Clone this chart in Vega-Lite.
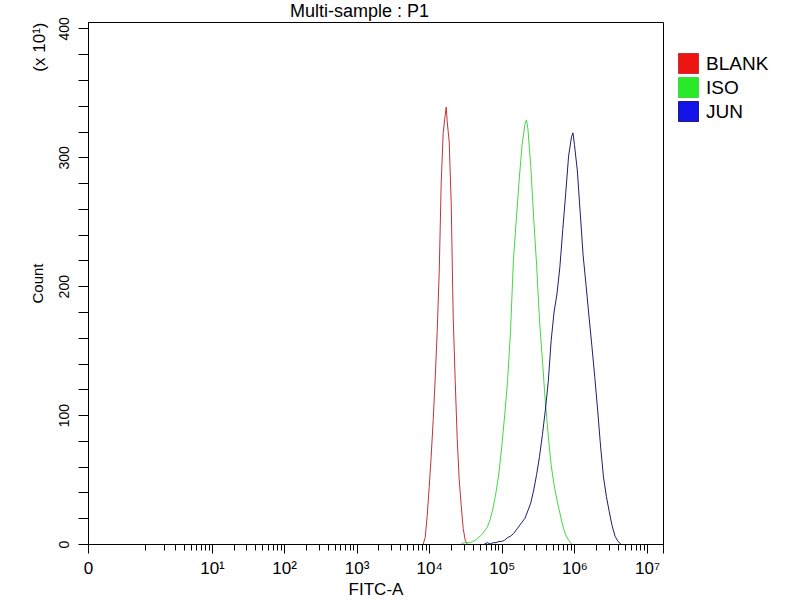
{
  "$schema": "https://vega.github.io/schema/vega-lite/v6.json",
  "width": 575,
  "height": 522,
  "autosize": "none",
  "padding": {"left": 88, "top": 22, "right": 137, "bottom": 56},
  "title": {
    "text": "Multi-sample : P1",
    "fontSize": 18,
    "fontWeight": "normal",
    "font": "Liberation Sans",
    "color": "black",
    "anchor": "middle",
    "frame": "group",
    "baseline": "bottom",
    "offset": -22,
    "dx": -16
  },
  "data": {
    "values": [
      {"sample": "BLANK", "fitc": 8270, "count": 0},
      {"sample": "BLANK", "fitc": 8810, "count": 5},
      {"sample": "BLANK", "fitc": 9390, "count": 22},
      {"sample": "BLANK", "fitc": 10000, "count": 44},
      {"sample": "BLANK", "fitc": 10650, "count": 68},
      {"sample": "BLANK", "fitc": 11350, "count": 96},
      {"sample": "BLANK", "fitc": 12090, "count": 128},
      {"sample": "BLANK", "fitc": 12890, "count": 165},
      {"sample": "BLANK", "fitc": 13730, "count": 210},
      {"sample": "BLANK", "fitc": 14630, "count": 280},
      {"sample": "BLANK", "fitc": 15590, "count": 319},
      {"sample": "BLANK", "fitc": 16620, "count": 333},
      {"sample": "BLANK", "fitc": 17150, "count": 339},
      {"sample": "BLANK", "fitc": 17700, "count": 328},
      {"sample": "BLANK", "fitc": 18860, "count": 312},
      {"sample": "BLANK", "fitc": 20090, "count": 265},
      {"sample": "BLANK", "fitc": 21410, "count": 176},
      {"sample": "BLANK", "fitc": 22810, "count": 127},
      {"sample": "BLANK", "fitc": 24310, "count": 82},
      {"sample": "BLANK", "fitc": 25900, "count": 50},
      {"sample": "BLANK", "fitc": 27600, "count": 30},
      {"sample": "BLANK", "fitc": 29400, "count": 12},
      {"sample": "BLANK", "fitc": 31330, "count": 3},
      {"sample": "BLANK", "fitc": 33380, "count": 0},
      {"sample": "ISO", "fitc": 27540, "count": 0},
      {"sample": "ISO", "fitc": 30200, "count": 1},
      {"sample": "ISO", "fitc": 33110, "count": 1},
      {"sample": "ISO", "fitc": 36310, "count": 1},
      {"sample": "ISO", "fitc": 39810, "count": 2},
      {"sample": "ISO", "fitc": 43650, "count": 3},
      {"sample": "ISO", "fitc": 47860, "count": 5},
      {"sample": "ISO", "fitc": 52480, "count": 7},
      {"sample": "ISO", "fitc": 57540, "count": 10},
      {"sample": "ISO", "fitc": 63100, "count": 13},
      {"sample": "ISO", "fitc": 69180, "count": 19},
      {"sample": "ISO", "fitc": 75860, "count": 28},
      {"sample": "ISO", "fitc": 83180, "count": 40},
      {"sample": "ISO", "fitc": 91200, "count": 55},
      {"sample": "ISO", "fitc": 100000, "count": 76},
      {"sample": "ISO", "fitc": 109600, "count": 100},
      {"sample": "ISO", "fitc": 120200, "count": 127},
      {"sample": "ISO", "fitc": 131800, "count": 165},
      {"sample": "ISO", "fitc": 144500, "count": 220},
      {"sample": "ISO", "fitc": 158500, "count": 252},
      {"sample": "ISO", "fitc": 173800, "count": 283},
      {"sample": "ISO", "fitc": 190500, "count": 310},
      {"sample": "ISO", "fitc": 208900, "count": 326},
      {"sample": "ISO", "fitc": 218800, "count": 329},
      {"sample": "ISO", "fitc": 229100, "count": 322},
      {"sample": "ISO", "fitc": 251200, "count": 292},
      {"sample": "ISO", "fitc": 275400, "count": 252},
      {"sample": "ISO", "fitc": 302000, "count": 216},
      {"sample": "ISO", "fitc": 331100, "count": 173},
      {"sample": "ISO", "fitc": 363100, "count": 142},
      {"sample": "ISO", "fitc": 398100, "count": 110},
      {"sample": "ISO", "fitc": 436500, "count": 84},
      {"sample": "ISO", "fitc": 478600, "count": 61},
      {"sample": "ISO", "fitc": 524800, "count": 46},
      {"sample": "ISO", "fitc": 575400, "count": 34},
      {"sample": "ISO", "fitc": 631000, "count": 24},
      {"sample": "ISO", "fitc": 691800, "count": 14},
      {"sample": "ISO", "fitc": 758600, "count": 7},
      {"sample": "ISO", "fitc": 831800, "count": 3},
      {"sample": "ISO", "fitc": 912000, "count": 0},
      {"sample": "JUN", "fitc": 57540, "count": 0},
      {"sample": "JUN", "fitc": 63100, "count": 1},
      {"sample": "JUN", "fitc": 69180, "count": 0},
      {"sample": "JUN", "fitc": 75860, "count": 1},
      {"sample": "JUN", "fitc": 83180, "count": 1},
      {"sample": "JUN", "fitc": 91200, "count": 2},
      {"sample": "JUN", "fitc": 100000, "count": 2},
      {"sample": "JUN", "fitc": 109600, "count": 3},
      {"sample": "JUN", "fitc": 120200, "count": 5},
      {"sample": "JUN", "fitc": 131800, "count": 6},
      {"sample": "JUN", "fitc": 144500, "count": 8},
      {"sample": "JUN", "fitc": 158500, "count": 11},
      {"sample": "JUN", "fitc": 173800, "count": 14},
      {"sample": "JUN", "fitc": 190500, "count": 17},
      {"sample": "JUN", "fitc": 208900, "count": 20},
      {"sample": "JUN", "fitc": 229100, "count": 26},
      {"sample": "JUN", "fitc": 251200, "count": 32},
      {"sample": "JUN", "fitc": 275400, "count": 42},
      {"sample": "JUN", "fitc": 302000, "count": 54},
      {"sample": "JUN", "fitc": 331100, "count": 68},
      {"sample": "JUN", "fitc": 363100, "count": 85},
      {"sample": "JUN", "fitc": 398100, "count": 104},
      {"sample": "JUN", "fitc": 436500, "count": 126},
      {"sample": "JUN", "fitc": 478600, "count": 158},
      {"sample": "JUN", "fitc": 524800, "count": 180},
      {"sample": "JUN", "fitc": 575400, "count": 194},
      {"sample": "JUN", "fitc": 631000, "count": 215},
      {"sample": "JUN", "fitc": 691800, "count": 244},
      {"sample": "JUN", "fitc": 758600, "count": 272},
      {"sample": "JUN", "fitc": 831800, "count": 301},
      {"sample": "JUN", "fitc": 912000, "count": 316},
      {"sample": "JUN", "fitc": 955000, "count": 319},
      {"sample": "JUN", "fitc": 1000000, "count": 310},
      {"sample": "JUN", "fitc": 1096000, "count": 290},
      {"sample": "JUN", "fitc": 1202000, "count": 257},
      {"sample": "JUN", "fitc": 1318000, "count": 224},
      {"sample": "JUN", "fitc": 1445000, "count": 201},
      {"sample": "JUN", "fitc": 1585000, "count": 177},
      {"sample": "JUN", "fitc": 1738000, "count": 154},
      {"sample": "JUN", "fitc": 1905000, "count": 130},
      {"sample": "JUN", "fitc": 2089000, "count": 104},
      {"sample": "JUN", "fitc": 2291000, "count": 76},
      {"sample": "JUN", "fitc": 2512000, "count": 52},
      {"sample": "JUN", "fitc": 2754000, "count": 37},
      {"sample": "JUN", "fitc": 3020000, "count": 25},
      {"sample": "JUN", "fitc": 3311000, "count": 14},
      {"sample": "JUN", "fitc": 3631000, "count": 6},
      {"sample": "JUN", "fitc": 3981000, "count": 2},
      {"sample": "JUN", "fitc": 4365000, "count": 0}
    ]
  },
  "layer": [
    {
      "mark": {"type": "line", "strokeWidth": 1},
      "encoding": {
        "x": {
          "field": "fitc",
          "type": "quantitative",
          "scale": {"type": "symlog", "constant": 0.2, "domain": [0, 16600000], "nice": false},
          "axis": {
            "values": [0, 10, 100, 1000, 10000, 100000, 1000000, 10000000, 16600000],
            "labelExpr": "datum.value < 1 ? '0' : datum.value > 16000000 ? '' : '10' + ['', '¹', '²', '³', '⁴', '⁵', '⁶', '⁷'][round(log(datum.value) / LN10)]",
            "tickSize": 9,
            "labelFontSize": 17,
            "labelPadding": 7,
            "labelFlush": false,
            "labelOverlap": false,
            "title": "FITC-A",
            "titleFontSize": 17,
            "titleFontWeight": "normal",
            "titlePadding": 5
          }
        },
        "y": {
          "field": "count",
          "type": "quantitative",
          "scale": {"domain": [0, 405], "nice": false},
          "axis": {
            "values": [0, 20, 40, 60, 80, 100, 120, 140, 160, 180, 200, 220, 240, 260, 280, 300, 320, 340, 360, 380, 400],
            "labelExpr": "datum.value % 100 == 0 ? datum.label : ''",
            "tickSize": 10,
            "labelAngle": 270,
            "labelAlign": "center",
            "labelBaseline": "bottom",
            "labelFontSize": 14,
            "labelPadding": 7,
            "labelOverlap": false,
            "title": "Count",
            "titleFontSize": 15,
            "titleFontWeight": "normal",
            "titlePadding": 12
          }
        },
        "stroke": {
          "field": "sample",
          "type": "nominal",
          "scale": {"domain": ["BLANK", "ISO", "JUN"], "range": ["#c03434", "#44d844", "#1e1e70"]},
          "legend": {
            "orient": "none",
            "legendX": 590,
            "legendY": 31,
            "title": null,
            "symbolType": "square",
            "symbolSize": 400,
            "symbolStrokeColor": "black",
            "symbolStrokeWidth": 1,
            "labelFontSize": 19,
            "labelColor": "black",
            "labelOffset": 7,
            "rowPadding": -1,
            "padding": 0,
            "encode": {
              "symbols": {
                "update": {
                  "fill": {"signal": "datum.value == 'BLANK' ? '#ee1414' : datum.value == 'ISO' ? '#28ea28' : '#1414ea'"},
                  "fillOpacity": {"value": 1},
                  "stroke": {"value": "#222222"},
                  "strokeWidth": {"value": 1},
                  "opacity": {"value": 1}
                }
              }
            }
          }
        }
      }
    },
    {
      "mark": {"type": "point", "opacity": 0},
      "encoding": {
        "x": {
          "field": "fitc",
          "type": "quantitative",
          "scale": {"type": "symlog", "constant": 0.2, "domain": [0, 16600000], "nice": false},
          "axis": {
            "orient": "bottom",
            "values": [1, 2, 3, 4, 5, 6, 7, 8, 9, 20, 30, 40, 50, 60, 70, 80, 90, 200, 300, 400, 500, 600, 700, 800, 900, 2000, 3000, 4000, 5000, 6000, 7000, 8000, 9000, 20000, 30000, 40000, 50000, 60000, 70000, 80000, 90000, 200000, 300000, 400000, 500000, 600000, 700000, 800000, 900000, 2000000, 3000000, 4000000, 5000000, 6000000, 7000000, 8000000, 9000000],
            "tickSize": 6,
            "labels": false,
            "domain": false,
            "title": null
          }
        },
        "y": {
          "field": "count",
          "type": "quantitative",
          "scale": {"domain": [0, 405], "nice": false},
          "axis": {
            "orient": "left",
            "ticks": false,
            "labels": false,
            "domain": false,
            "title": "(x 10¹)",
            "titleAnchor": "end",
            "titleFontSize": 17,
            "titleFontWeight": "normal",
            "titlePadding": 40
          }
        }
      }
    }
  ],
  "resolve": {"axis": {"x": "independent", "y": "independent"}},
  "config": {
    "font": "Liberation Sans",
    "view": {"stroke": "black", "strokeWidth": 1},
    "axis": {
      "grid": false,
      "labelFont": "Liberation Sans",
      "titleFont": "Liberation Sans",
      "labelColor": "black",
      "titleColor": "black",
      "domainColor": "black",
      "tickColor": "black"
    },
    "legend": {"labelFont": "Liberation Sans"}
  }
}
